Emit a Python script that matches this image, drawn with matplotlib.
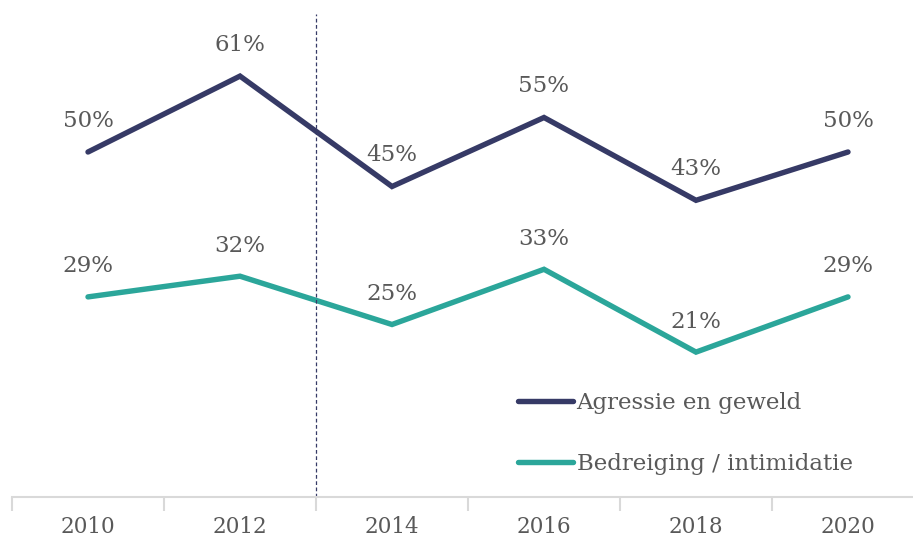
import matplotlib
matplotlib.use("Agg")
import matplotlib.pyplot as plt
from matplotlib.lines import Line2D

# data
years = ['2010', '2012', '2014', '2016', '2018', '2020']
agressie = [50, 61, 45, 55, 43, 50]
bedreiging = [29, 32, 25, 33, 21, 29]

navy = '#363a66'
teal = '#2ba69a'
grey_txt = '#595959'

plt.rcParams['font.family'] = ['DejaVu Serif']

fig = plt.figure(figsize=(9.13, 5.41), dpi=100)
# plot area runs a bit past the right edge of the picture
ax = fig.add_axes([12 / 913, 44 / 541, 912 / 913, 483 / 541])

x = list(range(len(years)))
ax.plot(x, agressie, color=navy, lw=3.9, solid_capstyle='round', solid_joinstyle='miter')
ax.plot(x, bedreiging, color=teal, lw=3.9, solid_capstyle='round', solid_joinstyle='miter')

# value labels
for xi, v in zip(x, agressie):
    ax.annotate(f'{v}%', (xi, v), xytext=(0, 22.5), textcoords='offset points',
                ha='center', va='center', fontsize=16.5, color=grey_txt)
for xi, v in zip(x, bedreiging):
    ax.annotate(f'{v}%', (xi, v), xytext=(0, 22), textcoords='offset points',
                ha='center', va='center', fontsize=16.5, color=grey_txt)

# dashed separator between 2012 and 2014
ax.axvline(1.5, color=navy, lw=0.9, ls=(0, (3, 2)), ymin=0, ymax=1)

ax.set_xlim(-0.5, 5.5)
ax.set_ylim(0, 70)
ax.set_xticks(x)
ax.set_xticklabels(years, fontsize=15.5, color=grey_txt)
ax.set_xticks([i - 0.5 for i in x], minor=True)
ax.tick_params(axis='x', which='major', length=0, pad=14)
ax.tick_params(axis='x', which='minor', length=10, color='#d9d9d9', width=1.5, direction='out')
ax.set_yticks([])
for s in ['left', 'right', 'top']:
    ax.spines[s].set_visible(False)
ax.spines['bottom'].set_color('#d9d9d9')
ax.spines['bottom'].set_linewidth(1.5)

handles = [Line2D([], [], color=navy, lw=3.9, solid_capstyle='round'),
           Line2D([], [], color=teal, lw=3.9, solid_capstyle='round')]
ax.legend(handles, ['Agressie en geweld', 'Bedreiging / intimidatie'],
          loc='upper left', bbox_to_anchor=(497 / 912, (497 - 383) / 483),
          frameon=False, fontsize=16.5, labelcolor=grey_txt, handlelength=2.4,
          handletextpad=0.15, labelspacing=1.7, borderaxespad=0)

fig.savefig('out.png', dpi=100)
